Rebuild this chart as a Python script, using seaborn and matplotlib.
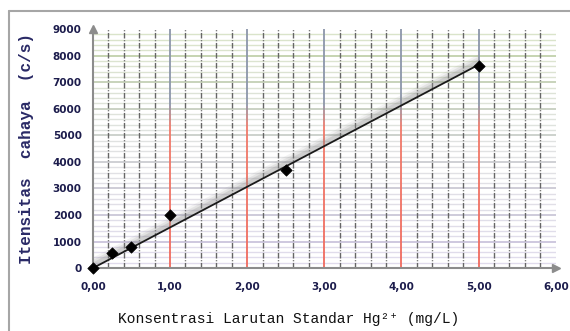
import numpy as np
import pandas as pd
import matplotlib.pyplot as plt
import seaborn as sns
from matplotlib.collections import LineCollection
from matplotlib.colors import LinearSegmentedColormap
from matplotlib.lines import Line2D

# data
konsentrasi = [0.0, 0.25, 0.5, 1.0, 2.5, 5.0]
intensitas = [0, 560, 800, 1990, 3700, 7620]
x_ticks = [0, 1, 2, 3, 4, 5, 6]
x_ticklabels = ["0,00", "1,00", "2,00", "3,00", "4,00", "5,00", "6,00"]
y_ticks = [0, 1000, 2000, 3000, 4000, 5000, 6000, 7000, 8000, 9000]

df = pd.DataFrame({"x": konsentrasi, "y": intensitas})

# trendline through origin (excel style)
xs = np.array(konsentrasi)
ys = np.array(intensitas)
slope = (xs * ys).sum() / (xs ** 2).sum()
fit = pd.DataFrame({"x": [0, xs.max()], "y": [0, slope * xs.max()]})

sns.set_style("white")
fig = plt.figure(figsize=(5.7, 3.31), dpi=100)
ax = fig.add_axes([0.163, 0.19, 0.812, 0.722])
ax.set_xlim(0, 6)
ax.set_ylim(0, 9000)

# horizontal grid lines, green at top -> purple at bottom
hcol = LinearSegmentedColormap.from_list("h", ["#b3a6d2", "#b4b8ba", "#a3bd78"])
for yy in np.arange(200, 9000, 200):
    major = yy % 1000 == 0
    ax.axhline(yy, color=hcol(yy / 9000), lw=1.2 if major else 1.0,
               alpha=0.75 if major else 0.4, zorder=1)

# minor vertical dashed lines
for xx in np.arange(0.2, 6, 0.2):
    if abs(xx - round(xx)) < 1e-6:
        continue
    ax.axvline(xx, color="#666666", lw=1.0, ls=(0, (4, 1.2, 0.8, 1.2)), zorder=2)

# major vertical lines, red below -> blue gray above
vcol = LinearSegmentedColormap.from_list(
    "v", [(0, "#f06a5e"), (0.58, "#f07a6a"), (0.68, "#8c96aa"), (1, "#8c96aa")])
yy = np.linspace(0, 9000, 60)
for xx in range(1, 6):
    pts = np.array([[xx, v] for v in yy])
    segs = np.stack([pts[:-1], pts[1:]], axis=1)
    lc = LineCollection(segs, colors=vcol(yy[:-1] / 9000), lw=1.3, zorder=2)
    ax.add_collection(lc)

# soft shadow above the trendline
fx = np.linspace(0, xs.max(), 50)
fy = slope * fx
for lo, hi, a in [(0, 420, 0.10), (30, 330, 0.15), (60, 240, 0.22)]:
    ax.fill_between(fx, fy + lo, fy + hi, color="#8a8a8a", alpha=a, lw=0, zorder=3)

sns.lineplot(data=fit, x="x", y="y", color="#1a1a1a", lw=1.3, ax=ax, zorder=4)
sns.scatterplot(data=df, x="x", y="y", marker="D", s=34, color="black",
                edgecolor="black", ax=ax, zorder=5, clip_on=False)

# axes
for s in ["top", "right"]:
    ax.spines[s].set_visible(False)
for s in ["left", "bottom"]:
    ax.spines[s].set_color("#8c8c8c")
    ax.spines[s].set_linewidth(1.5)
ax.plot([0], [9000], marker="^", color="#8c8c8c", ms=6, clip_on=False, zorder=6)
ax.plot([6], [0], marker=">", color="#8c8c8c", ms=6, clip_on=False, zorder=6)

ax.set_xticks(x_ticks)
ax.set_xticklabels(x_ticklabels)
ax.set_yticks(y_ticks)
ax.tick_params(axis="both", direction="out", length=4, width=1, color="#8c8c8c",
               labelsize=7.5, labelcolor="#1c1c4c", pad=4)
ax.tick_params(axis="x", pad=6)
for t in ax.get_xticklabels() + ax.get_yticklabels():
    t.set_fontweight("bold")

ax.set_xlabel("Konsentrasi Larutan Standar Hg²⁺ (mg/L)",
              family=["Liberation Mono", "DejaVu Sans Mono"], fontsize=10.5,
              color="#111111")
ax.xaxis.set_label_coords(0.423, -0.185)
ax.set_ylabel("Itensitas  cahaya  (c/s)", family="Liberation Mono",
              fontsize=11.5, fontweight="bold", color="#2a2a66")
ax.yaxis.set_label_coords(-0.128, 0.5)

# chart border (top and left visible)
top = 1 - 11 / 331
left = 9 / 570
fig.add_artist(Line2D([left, 1.05], [top, top], transform=fig.transFigure,
                      color="#a6a6a6", lw=1.5))
fig.add_artist(Line2D([left, left], [top, -0.05], transform=fig.transFigure,
                      color="#a6a6a6", lw=1.5))

fig.savefig("out.png", dpi=100)
